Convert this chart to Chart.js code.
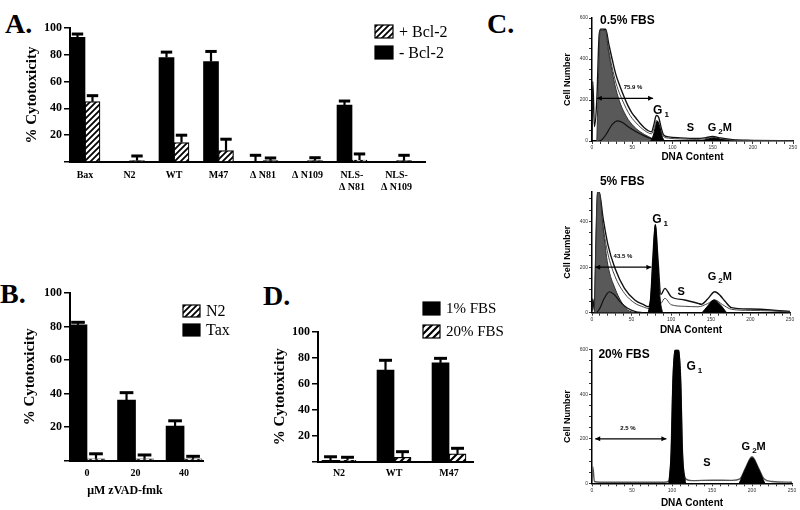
<!DOCTYPE html>
<html>
<head>
<meta charset="utf-8">
<script src="https://cdn.jsdelivr.net/npm/chart.js@4.4.0/dist/chart.umd.min.js"></script>
<style>
  html, body { margin: 0; padding: 0; background: #fff; }
  #fig { position: relative; width: 800px; height: 510px; overflow: hidden; background: #fff; }
  #fig canvas { position: absolute; }
  .tag { position: absolute; font: bold 28px "Liberation Serif", serif; line-height: 1; color: #000; }
</style>
</head>
<body>
<div id="fig">
  <div class="tag" style="left:5px;top:10px">A.</div>
  <div class="tag" style="left:0px;top:280px">B.</div>
  <div class="tag" style="left:487px;top:10px">C.</div>
  <div class="tag" style="left:263px;top:282px">D.</div>
  <canvas id="chartA" width="460" height="210" style="left:0;top:0"></canvas>
  <canvas id="chartB" width="240" height="260" style="left:0;top:250px"></canvas>
  <canvas id="chartD" width="250" height="260" style="left:255px;top:250px"></canvas>
  <canvas id="chartC1" width="245" height="170" style="left:555px;top:0"></canvas>
  <canvas id="chartC2" width="245" height="170" style="left:555px;top:170px"></canvas>
  <canvas id="chartC3" width="245" height="170" style="left:555px;top:340px"></canvas>
</div>
<script>
// ---- panel A: % cytotoxicity with / without Bcl-2 ----
var groupsA = ['Bax', 'N2', 'WT', 'M47', 'Δ N81', 'Δ N109', ['NLS-', 'Δ N81'], ['NLS-', 'Δ N109']];
var minusBcl2 = [93, 0, 78, 75, 0, 0, 42.5, 0];
var minusBcl2Err = [2.5, 0, 4, 7.5, 5, 0, 3, 0];
var plusBcl2 = [45, 1, 14.5, 8.5, 1, 1, 1.5, 1];
var plusBcl2Err = [4.5, 3.5, 5.5, 8.5, 2, 2.2, 4.5, 4];

// ---- panel B: zVAD-fmk dose ----
var dosesB = ['0', '20', '40'];
var taxValues = [81, 36, 20.5];
var taxErr = [1.5, 4.5, 3.2];
var n2Values = [1, 1, 1];
var n2Err = [3, 2.3, 1.5];

// ---- panel D: serum ----
var groupsD = ['N2', 'WT', 'M47'];
var fbs1 = [1, 70.5, 76];
var fbs1Err = [2.8, 7.5, 3.5];
var fbs20 = [1, 3.4, 6];
var fbs20Err = [2.4, 4.3, 4.3];

// ---- panel C: DNA content histograms, [DNA content, cell number] ----
var c1Outer = [[0,5],[1,290],[3,70],[6,200],[9,520],[11,545],[17,545],[21,470],[25,400],[30,320],[35,265],[40,215],[45,170],[50,135],[55,110],[60,85],[65,65],[70,50],[74,45],[77,80],[80,125],[83,115],[86,65],[89,30],[95,20],[110,15],[130,12],[140,15],[150,22],[160,15],[175,6],[200,3],[250,0]];
var c1Inner = [[11,545],[17,530],[21,440],[25,360],[30,280],[35,225],[40,180],[45,140],[50,110],[55,88],[60,68],[65,52],[70,40],[74,35],[77,60],[80,100],[83,90],[86,48],[89,22],[95,14],[110,10],[130,8],[140,10],[150,16],[160,10],[175,4],[200,2],[250,0]];
var c1Debris = [[6,0],[8,300],[10,540],[17,540],[20,450],[25,340],[30,250],[35,185],[40,140],[45,105],[50,80],[55,60],[60,45],[65,32],[70,22],[75,12],[80,5],[85,0]];
var c1Hump = [[8,0],[12,5],[18,35],[25,80],[32,98],[38,90],[45,70],[55,45],[65,25],[75,10],[85,0]];
var c1G1 = [[73,0],[76,25],[79,70],[81,97],[84,70],[87,25],[90,0]];
var c1G2M = [[135,0],[145,10],[152,15],[160,8],[170,0]];

var c2Outer = [[0,5],[1,60],[3,10],[5,300],[7,530],[9,530],[14,415],[20,300],[29,195],[41,107],[54,56],[65,35],[71,26],[74,60],[77,250],[80,386],[83,250],[87,80],[92,107],[100,70],[117,56],[134,41],[138,37],[146,60],[155,92],[162,75],[168,50],[176,22],[200,16],[226,12],[250,5]];
var c2Inner = [[9,530],[14,380],[20,260],[29,160],[41,85],[54,42],[65,25],[72,18],[87,40],[92,63],[100,35],[117,28],[134,26],[146,40],[155,56],[165,35],[176,15],[200,10],[226,8],[250,3]];
var c2Debris = [[3,0],[5,300],[7,530],[9,530],[14,371],[20,210],[29,107],[37,48],[45,12],[54,0]];
var c2Hump = [[6,0],[10,20],[15,60],[22,92],[28,80],[35,50],[45,20],[55,5],[65,0]];
var c2G1 = [[71,0],[74,60],[77,220],[80,386],[83,220],[86,60],[89,0]];
var c2G2M = [[139,0],[145,25],[154,56],[162,35],[170,0]];

var c3Outer = [[0,5],[1,75],[3,8],[10,5],[50,5],[90,5],[96,10],[99,150],[101,450],[104,600],[108,600],[111,450],[113,150],[117,20],[125,12],[150,14],[175,13],[185,20],[192,70],[200,119],[208,70],[215,20],[225,8],[250,5]];
var c3G1 = [[96,0],[99,150],[101,450],[104,600],[108,600],[111,450],[113,150],[117,0]];
var c3G2M = [[184,0],[192,65],[200,115],[208,65],[216,0]];

var SERIF = '"Liberation Serif", "Times New Roman", serif';
var SANS = '"Liberation Sans", Arial, sans-serif';
Chart.defaults.color = '#000';

function hatch(id, step, lw) {
  var c = document.createElement('canvas');
  c.width = step; c.height = step;
  var g = c.getContext('2d');
  g.fillStyle = '#fff'; g.fillRect(0, 0, step, step);
  g.strokeStyle = '#000'; g.lineWidth = lw;
  g.beginPath();
  g.moveTo(-1, step + 1); g.lineTo(step + 1, -1);
  g.moveTo(-1, 1); g.lineTo(1, -1);
  g.moveTo(step - 1, step + 1); g.lineTo(step + 1, step - 1);
  g.stroke();
  return document.getElementById(id).getContext('2d').createPattern(c, 'repeat');
}

// upper error bars, read from dataset.errors
var errorBars = {
  id: 'errorBars',
  afterDatasetsDraw: function(chart) {
    var ctx = chart.ctx, ys = chart.scales.y;
    chart.data.datasets.forEach(function(ds, i) {
      if (!ds.errors) return;
      chart.getDatasetMeta(i).data.forEach(function(bar, j) {
        var e = ds.errors[j];
        if (!e) return;
        var top = ys.getPixelForValue(ds.data[j].y + e);
        var half = bar.width * 0.38;
        ctx.save();
        ctx.strokeStyle = '#000';
        ctx.lineWidth = 2.2;
        ctx.beginPath(); ctx.moveTo(bar.x, bar.y); ctx.lineTo(bar.x, top); ctx.stroke();
        ctx.lineWidth = 3;
        ctx.beginPath(); ctx.moveTo(bar.x - half, top); ctx.lineTo(bar.x + half, top); ctx.stroke();
        ctx.restore();
      });
    });
  }
};

var boxLegend = {
  id: 'boxLegend',
  afterDraw: function(chart) {
    var o = chart.config.options.plugins.boxLegend;
    if (!o) return;
    var ctx = chart.ctx;
    o.order.forEach(function(di, k) {
      var ds = chart.data.datasets[di];
      var by = o.y + k * o.gap;
      ctx.save();
      ctx.fillStyle = ds.backgroundColor;
      ctx.fillRect(o.x, by, o.w, o.h);
      ctx.strokeStyle = '#000'; ctx.lineWidth = 1.2;
      ctx.strokeRect(o.x, by, o.w, o.h);
      ctx.fillStyle = '#000';
      ctx.font = o.font;
      ctx.textBaseline = 'middle';
      ctx.fillText(ds.label, o.x + o.w + 6, by + o.h / 2 + 1);
      ctx.restore();
    });
  }
};

// free text and arrows; data coords unless item.px
var notes = {
  id: 'notes',
  afterDraw: function(chart) {
    var o = chart.config.options.plugins.notes;
    if (!o) return;
    var ctx = chart.ctx, xs = chart.scales.x, ys = chart.scales.y;
    ctx.save();
    ctx.fillStyle = '#000'; ctx.strokeStyle = '#000';
    (o.arrows || []).forEach(function(a) {
      var x0 = xs.getPixelForValue(a[0]), x1 = xs.getPixelForValue(a[1]), y = ys.getPixelForValue(a[2]);
      ctx.lineWidth = 1.3;
      ctx.beginPath(); ctx.moveTo(x0, y); ctx.lineTo(x1, y); ctx.stroke();
      ctx.beginPath();
      ctx.moveTo(x0, y); ctx.lineTo(x0 + 5, y - 2.5); ctx.lineTo(x0 + 5, y + 2.5); ctx.closePath();
      ctx.moveTo(x1, y); ctx.lineTo(x1 - 5, y - 2.5); ctx.lineTo(x1 - 5, y + 2.5); ctx.closePath();
      ctx.fill();
    });
    (o.texts || []).forEach(function(t) {
      var px = t.px ? t.x : xs.getPixelForValue(t.x);
      var py = t.px ? t.y : ys.getPixelForValue(t.y);
      ctx.font = t.font;
      ctx.textAlign = t.align || 'left';
      ctx.textBaseline = t.base || 'alphabetic';
      ctx.fillText(t.text, px, py);
      if (t.sub) {
        var w = ctx.measureText(t.text).width;
        ctx.textAlign = 'left';
        ctx.font = t.subFont;
        ctx.fillText(t.sub, px + w + 2, py + 3);
        var sw = ctx.measureText(t.sub).width;
        if (t.tail) { ctx.font = t.font; ctx.fillText(t.tail, px + w + sw + 2, py); }
      }
    });
    ctx.restore();
  }
};

function barPanel(id, names, sets, g) {
  return new Chart(document.getElementById(id), {
    type: 'bar',
    data: {
      datasets: sets.map(function(s) {
        return {
          label: s.label,
          data: s.values.map(function(v, i) { return {x: i, y: v}; }),
          errors: s.errors,
          backgroundColor: s.fill,
          borderColor: '#000',
          borderWidth: s.edge,
          barThickness: g.barW
        };
      })
    },
    options: {
      responsive: false, animation: false, events: [],
      layout: {padding: {top: g.top, right: g.right, left: 0, bottom: 0}},
      plugins: {legend: {display: false}, tooltip: {enabled: false}, boxLegend: g.legend, notes: g.notes || null},
      scales: {
        x: {
          type: 'linear', offset: false, min: g.xMin, max: g.xMax,
          afterFit: function(s) { s.height = g.xH; },
          grid: {display: false, drawTicks: false, offset: false},
          border: {display: true, color: '#000', width: 2},
          ticks: {
            stepSize: 1, includeBounds: false, autoSkip: false, maxRotation: 0, padding: g.xPad,
            color: '#000', font: {family: SERIF, size: 10, weight: 'bold'},
            callback: function(v) { return names[Math.round(v)]; }
          }
        },
        y: {
          min: 0, max: 100,
          afterFit: function(s) { s.width = g.yW; },
          grid: {display: true, drawOnChartArea: false, drawTicks: true, tickLength: 6, color: '#000', lineWidth: 1.5},
          border: {display: true, color: '#000', width: 2},
          ticks: {
            stepSize: 10, includeBounds: false, padding: 2, color: '#000',
            font: {family: SERIF, size: 12, weight: 'bold'},
            callback: function(v) { return (v > 0 && v % 20 === 0) ? String(v) : ''; }
          },
          title: {
            display: true, text: '% Cytotoxicity', color: '#000',
            font: {family: SERIF, size: 15, weight: 'bold'},
            padding: {top: g.titlePad, bottom: 0}
          }
        }
      }
    },
    plugins: [errorBars, boxLegend, notes]
  });
}

function pts(a) { return a.map(function(p) { return {x: p[0], y: p[1]}; }); }

function histPanel(id, c, g) {
  var ds = [
    {data: pts(c.g1), backgroundColor: '#000', borderColor: '#000', borderWidth: 1, fill: 'origin'},
    {data: pts(c.g2m), backgroundColor: '#000', borderColor: '#000', borderWidth: 1, fill: 'origin'},
    {data: pts(c.hump), borderColor: '#111', borderWidth: 1.2, fill: false},
    {data: pts(c.debris), backgroundColor: '#595959', borderColor: '#333', borderWidth: 1, fill: 'origin'},
    {data: pts(c.inner), borderColor: '#444', borderWidth: 1, fill: false},
    {data: pts(c.outer), borderColor: c.outerColor || '#111', borderWidth: 1.4, fill: false}
  ];
  ds.forEach(function(d) {
    d.pointRadius = 0;
    d.cubicInterpolationMode = 'monotone';
  });
  return new Chart(document.getElementById(id), {
    type: 'line',
    data: {datasets: ds},
    options: {
      responsive: false, animation: false, events: [],
      layout: {padding: {top: g.top, right: g.right, left: 0, bottom: 0}},
      plugins: {legend: {display: false}, tooltip: {enabled: false}, notes: g.notes},
      scales: {
        x: {
          type: 'linear', min: 0, max: 250,
          afterFit: function(s) { s.height = g.xH; },
          grid: {display: true, drawOnChartArea: false, drawTicks: true, tickLength: 3, color: '#000', lineWidth: 0.8},
          border: {display: true, color: '#000', width: 1.5},
          ticks: {
            stepSize: 10, autoSkip: false, maxRotation: 0, padding: 1, color: '#333',
            font: {family: SANS, size: 5},
            callback: function(v) { return v % 50 === 0 ? String(v) : ''; }
          },
          title: {
            display: true, text: 'DNA Content', color: '#000',
            font: {family: SANS, size: 10, weight: 'bold'},
            padding: {top: 0, bottom: g.xTitlePad}
          }
        },
        y: {
          min: 0, max: g.yMax,
          afterFit: function(s) { s.width = 37; },
          grid: {display: true, drawOnChartArea: false, drawTicks: true, tickLength: 3, color: '#000', lineWidth: 0.8},
          border: {display: true, color: '#000', width: 1.5},
          ticks: {
            stepSize: 50, includeBounds: false, padding: 1, color: '#333',
            font: {family: SANS, size: 5},
            callback: function(v) { return v % 200 === 0 ? String(v) : ''; }
          },
          title: {
            display: true, text: 'Cell Number', color: '#000',
            font: {family: SANS, size: 9, weight: 'bold'},
            padding: {top: 7, bottom: 0}
          }
        }
      }
    },
    plugins: [notes]
  });
}

function phaseTexts(title, tx, ty, g1, s, g2m) {
  var big = 'bold 12px ' + SANS, mid = 'bold 11px ' + SANS, sub = 'bold 8px ' + SANS;
  return [
    {text: title, x: tx, y: ty, font: 'bold 12px ' + SANS},
    {text: 'G', sub: '1', x: g1[0], y: g1[1], font: big, subFont: sub},
    {text: 'S', x: s[0], y: s[1], font: mid},
    {text: 'G', sub: '2', tail: 'M', x: g2m[0], y: g2m[1], font: mid, subFont: sub}
  ];
}

var hatchA = hatch('chartA', 6, 1.8);
var hatchB = hatch('chartB', 6, 1.8);
var hatchD = hatch('chartD', 7, 2.2);

barPanel('chartA', groupsA, [
  {label: '- Bcl-2', values: minusBcl2, errors: minusBcl2Err, fill: '#000', edge: 0},
  {label: '+ Bcl-2', values: plusBcl2, errors: plusBcl2Err, fill: hatchA, edge: 1.2}
], {top: 28, right: 35, xH: 48, yW: 70, xMin: -0.337, xMax: 7.64, barW: 15, xPad: 7, titlePad: 23,
    legend: {order: [1, 0], x: 375, y: 25, w: 18, h: 13, gap: 21, font: '16px ' + SERIF}});

barPanel('chartB', dosesB, [
  {label: 'Tax', values: taxValues, errors: taxErr, fill: '#000', edge: 0},
  {label: 'N2', values: n2Values, errors: n2Err, fill: hatchB, edge: 1.2}
], {top: 43, right: 37, xH: 49.5, yW: 70, xMin: -0.35, xMax: 2.39, barW: 18, xPad: 7, titlePad: 21,
    legend: {order: [1, 0], x: 183, y: 55, w: 17, h: 12, gap: 19, font: '16px ' + SERIF},
    notes: {texts: [{text: 'μM zVAD-fmk', x: 125, y: 241, px: true, align: 'center', base: 'middle', font: 'bold 12px ' + SERIF}]}});

barPanel('chartD', groupsD, [
  {label: '1% FBS', values: fbs1, errors: fbs1Err, fill: '#000', edge: 0},
  {label: '20% FBS', values: fbs20, errors: fbs20Err, fill: hatchD, edge: 1.2}
], {top: 81.7, right: 32, xH: 48.3, yW: 63, xMin: -0.382, xMax: 2.436, barW: 17, xPad: 5.5, titlePad: 16,
    legend: {order: [0, 1], x: 168, y: 52, w: 17, h: 13, gap: 23, font: '15px ' + SERIF}});

histPanel('chartC1', {outer: c1Outer, inner: c1Inner, debris: c1Debris, hump: c1Hump, g1: c1G1, g2m: c1G2M},
  {top: 18, right: 7, xH: 29, yMax: 600, xTitlePad: 7,
   notes: {arrows: [[6, 76, 208]],
           texts: phaseTexts('0.5% FBS', 10, 570, [76, 130], [118, 47], [144, 47]).concat(
             [{text: '75.9 %', x: 51, y: 255, align: 'center', font: 'bold 6px ' + SANS}])}});

histPanel('chartC2', {outer: c2Outer, inner: c2Inner, debris: c2Debris, hump: c2Hump, g1: c2G1, g2m: c2G2M},
  {top: 22, right: 10, xH: 27.3, yMax: 530, xTitlePad: 4,
   notes: {arrows: [[4, 75, 200]],
           texts: phaseTexts('5% FBS', 10, 562, [76, 393], [108, 78], [146, 144]).concat(
             [{text: '43.5 %', x: 39, y: 238, align: 'center', font: 'bold 6px ' + SANS}])}});

histPanel('chartC3', {outer: c3Outer, inner: [], debris: [], hump: [], g1: c3G1, g2m: c3G2M, outerColor: '#555'},
  {top: 9.8, right: 8, xH: 26.7, yMax: 600, xTitlePad: 1,
   notes: {arrows: [[4, 93, 200]],
           texts: phaseTexts('20% FBS', 8, 563, [118, 509], [139, 78], [187, 150]).concat(
             [{text: '2.5 %', x: 45, y: 238, align: 'center', font: 'bold 6px ' + SANS}])}});
</script>
</body>
</html>
